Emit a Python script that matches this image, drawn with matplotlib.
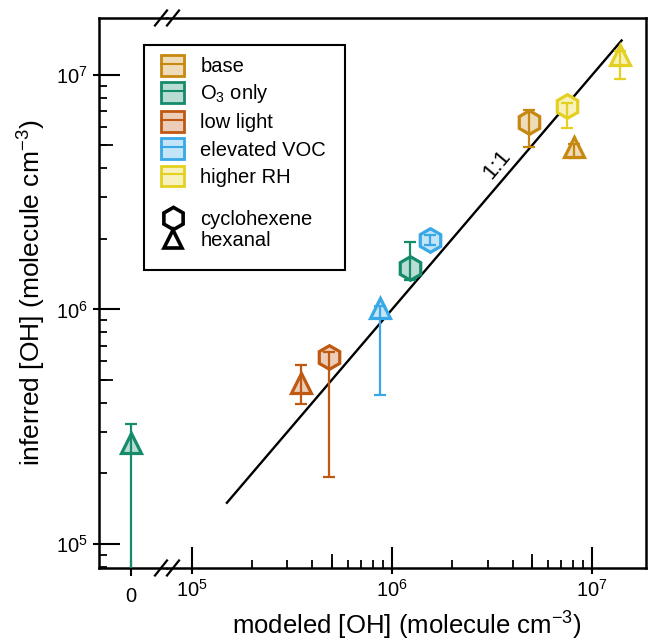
import matplotlib
matplotlib.use("Agg")
import matplotlib.pyplot as plt
import matplotlib.ticker as mticker
from matplotlib.patches import Patch, Rectangle
from matplotlib.lines import Line2D
from matplotlib.colors import to_rgb

# ---------- data ----------
conditions = ["base", "O$_\\mathdefault{3}$ only", "low light", "elevated VOC", "higher RH"]
colors = ["#C6880F", "#168B6C", "#BF5912", "#38A8E6", "#E3D020"]

# cyclohexene (hexagons)
cyc_model = [4.83e6, 1.23e6, 4.86e5, 1.55e6, 7.45e6]
cyc_inferred = [6.3e6, 1.50e6, 6.27e5, 1.98e6, 7.33e6]
cyc_lo = [4.9e6, 1.34e6, 1.93e5, 1.88e6, 5.94e6]
cyc_hi = [7.1e6, 1.94e6, 6.6e5, 2.08e6, 7.6e6]

# hexanal (triangles)
hex_model = [8.13e6, 0.0, 3.53e5, 8.69e5, 1.37e7]
hex_inferred = [4.94e6, 2.70e5, 4.86e5, 1.01e6, 1.22e7]
hex_lo = [4.42e6, 1e3, 3.95e5, 4.32e5, 9.6e6]
hex_hi = [5.05e6, 3.25e5, 5.8e5, 1.03e6, 1.26e7]

one_to_one = [1.5e5, 1.4e7]


def tint(c, a=0.3):
    r, g, b = to_rgb(c)
    return (1 - a + a * r, 1 - a + a * g, 1 - a + a * b)


plt.rcParams["font.family"] = ["Liberation Sans", "DejaVu Sans"]
plt.rcParams["mathtext.fontset"] = "custom"
plt.rcParams["mathtext.rm"] = "Liberation Sans"
plt.rcParams["mathtext.it"] = "Liberation Sans:italic"
plt.rcParams["mathtext.bf"] = "Liberation Sans:bold"

W, H = 648, 644
fig = plt.figure(figsize=(W / 100, H / 100), dpi=100)
left, joint, right, top, bottom = 99, 167, 646, 18, 568
ax0 = fig.add_axes([left / W, 1 - bottom / H, (joint - left) / W, (bottom - top) / H])
ax1 = fig.add_axes([joint / W, 1 - bottom / H, (right - joint) / W, (bottom - top) / H], sharey=ax0)

ax0.set_yscale("log")
ax1.set_xscale("log")
ax0.set_ylim(10 ** 4.898, 10 ** 7.242)
ax0.set_xlim(-1, 1.125)
ax1.set_xlim(10 ** 4.877, 10 ** 7.268)

# ---------- marks ----------
for i, c in enumerate(colors):
    # cyclohexene
    ax1.plot(cyc_model[i], cyc_inferred[i], marker="h", ms=17, mew=2.3,
             mec=c, mfc=tint(c), ls="none", zorder=3)
    ax1.errorbar(cyc_model[i], cyc_inferred[i],
                 yerr=[[cyc_inferred[i] - cyc_lo[i]], [cyc_hi[i] - cyc_inferred[i]]],
                 fmt="none", ecolor=c, elinewidth=1.6, capsize=4, capthick=1.6, zorder=4)
    # hexanal
    a = ax0 if hex_model[i] == 0 else ax1
    a.plot(hex_model[i], hex_inferred[i], marker="^", ms=14, mew=2.3,
           mec=c, mfc=tint(c), ls="none", zorder=3)
    a.errorbar(hex_model[i], hex_inferred[i],
               yerr=[[hex_inferred[i] - hex_lo[i]], [hex_hi[i] - hex_inferred[i]]],
               fmt="none", ecolor=c, elinewidth=1.6, capsize=4, capthick=1.6, zorder=4)

ax1.plot(one_to_one, one_to_one, color="black", lw=1.7, zorder=2)
ax1.text(3.34e6, 4.13e6, "1:1", rotation=50, ha="center", va="center", fontsize=16)

# ---------- axes styling ----------
for a in (ax0, ax1):
    for s in a.spines.values():
        s.set_linewidth(1.8)
ax0.spines["right"].set_visible(False)
ax1.spines["left"].set_visible(False)

ax0.set_xticks([0])
ax0.set_xticklabels(["0"])
ax0.tick_params(axis="x", which="major", direction="inout", length=12, width=1.5,
                labelsize=14.5, pad=8)
ax0.tick_params(axis="x", which="minor", bottom=False)
ax0.tick_params(axis="y", which="major", direction="in", length=15, width=1.5,
                labelsize=14.5, pad=8)
ax0.tick_params(axis="y", which="minor", direction="in", length=5.5, width=1.3)
ax0.set_yticks([1e5, 1e6, 1e7])

ax1.tick_params(axis="y", which="both", left=False, labelleft=False)
ax1.set_xticks([1e5, 1e6, 1e7])
ax1.xaxis.set_minor_locator(mticker.FixedLocator(
    [k * 10.0 ** e for e in (5, 6) for k in range(2, 10)]))
ax1.xaxis.set_minor_formatter(mticker.NullFormatter())
ax1.tick_params(axis="x", which="major", direction="in", length=15, width=1.5,
                labelsize=14.5, pad=8)
ax1.tick_params(axis="x", which="minor", direction="in", length=5.5, width=1.3)

# medium ticks at 5x and short outward part of major ticks
sy = ax0.secondary_yaxis("left")
sy.set_yticks([1e5, 1e6, 1e7])
sy.set_yticks([5e5, 5e6], minor=True)
sy.tick_params(which="major", direction="out", length=4.5, width=1.5, labelleft=False)
sy.tick_params(which="minor", direction="in", length=10, width=1.3, labelleft=False)
sy.spines["left"].set_visible(False)

sx = ax1.secondary_xaxis("bottom")
sx.set_xticks([1e5, 1e6, 1e7])
sx.set_xticks([5e5, 5e6], minor=True)
sx.tick_params(which="major", direction="out", length=4.5, width=1.5, labelbottom=False)
sx.tick_params(which="minor", direction="in", length=10, width=1.3, labelbottom=False)
sx.spines["bottom"].set_visible(False)

ax0.set_ylabel("inferred [OH] (molecule cm$^{\\mathdefault{-3}}$)", fontsize=19, labelpad=6)
ax1.set_xlabel("modeled [OH] (molecule cm$^{\\mathdefault{-3}}$)", fontsize=18.5, labelpad=6)

# axis break marks
for yb in (0, 1):
    for dx in (-6, 6):
        ax1.plot([-(6 - dx) / (right - joint), (6 + dx) / (right - joint)],
                 [yb - 7.5 / (bottom - top), yb + 7.5 / (bottom - top)],
                 transform=ax1.transAxes, color="black", lw=1.6, clip_on=False, zorder=6)

# ---------- legend ----------
cond_handles = [(Patch(facecolor=tint(c), edgecolor=c, linewidth=2, joinstyle="round"),
                 Line2D([], [], color=c, lw=1.5)) for c in colors]
leg1 = fig.legend(cond_handles, conditions, loc="upper left",
                  bbox_to_anchor=(161 / W, 1 - 55 / H), frameon=False,
                  fontsize=14.5, borderpad=0, handlelength=1.15, handleheight=1.2,
                  handletextpad=0.8, labelspacing=0.3, borderaxespad=0)
shape_handles = [Line2D([], [], marker="h", ms=16, mew=2.6, mec="black", mfc="none", ls="none"),
                 Line2D([], [], marker="^", ms=13, mew=2.6, mec="black", mfc="none", ls="none")]
leg2 = fig.legend(shape_handles, ["cyclohexene", "hexanal"], loc="upper left",
                  bbox_to_anchor=(161 / W, 1 - 210 / H), frameon=False,
                  fontsize=14.5, borderpad=0, handlelength=1.15,
                  handletextpad=0.8, labelspacing=0.08, borderaxespad=0)
frame = Rectangle((144 / W, 1 - 270 / H), (345 - 144) / W, (270 - 45) / H,
                  transform=fig.transFigure, facecolor="white", edgecolor="black",
                  linewidth=1.5, zorder=4)
fig.add_artist(frame)
leg1.set_zorder(5)
leg2.set_zorder(5)

fig.savefig("out.png", dpi=100)
